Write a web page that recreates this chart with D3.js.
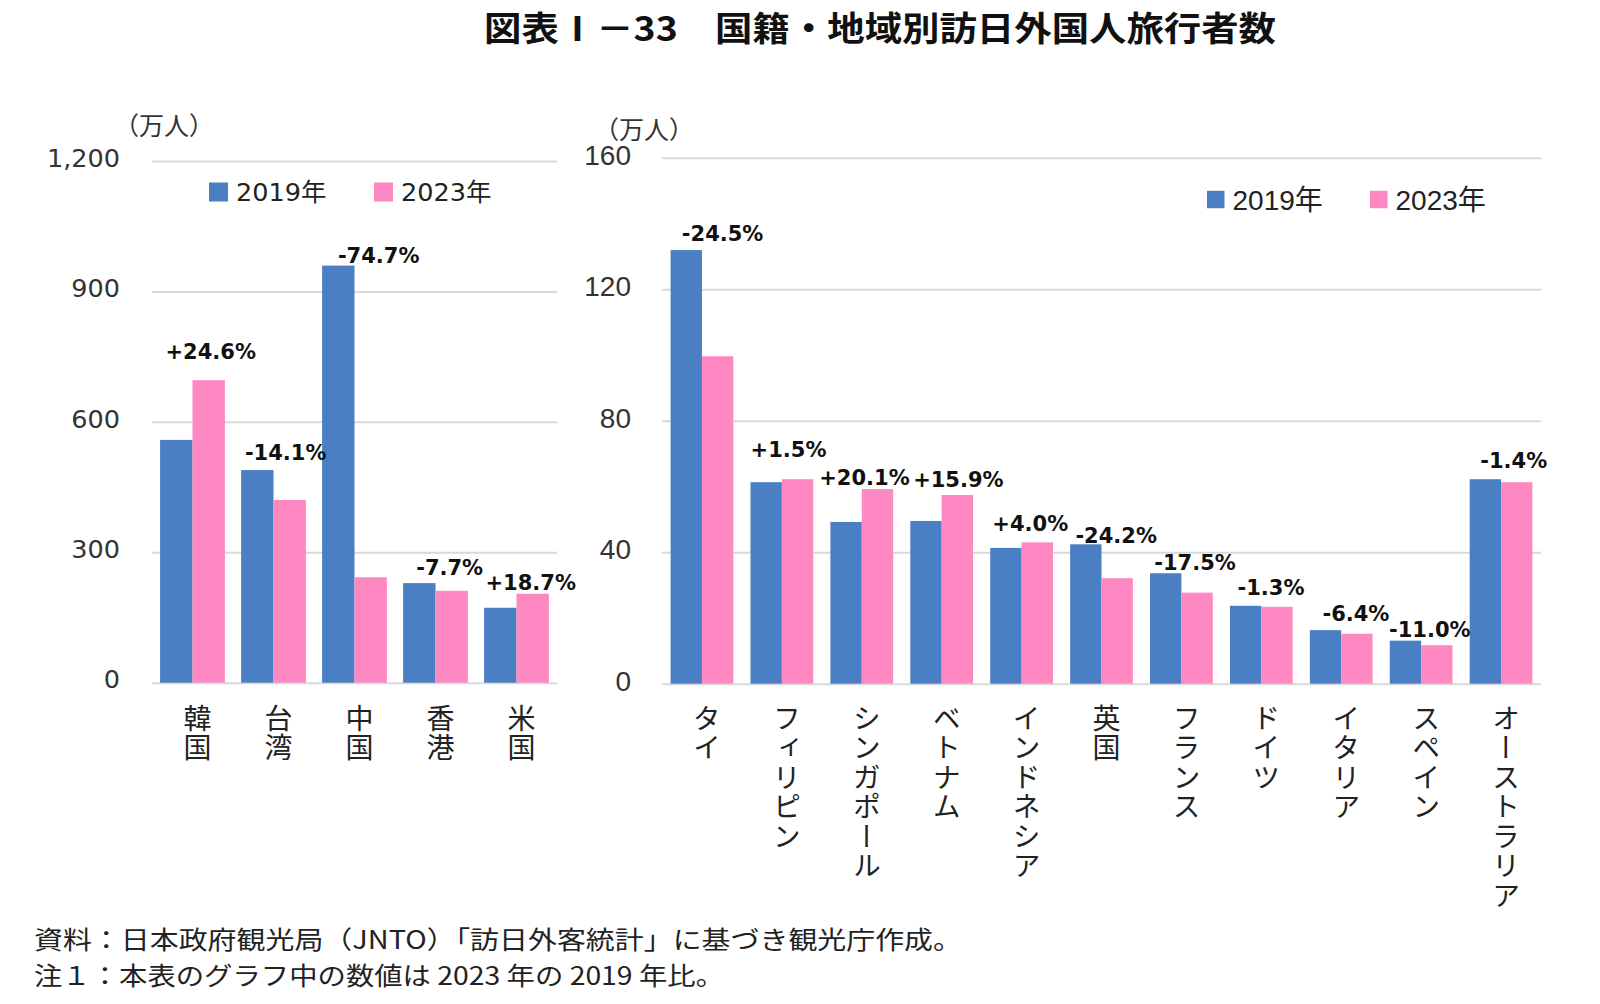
<!DOCTYPE html>
<html><head><meta charset="utf-8">
<script src="https://cdn.jsdelivr.net/npm/d3@7"></script>
<style>
html,body{margin:0;padding:0;background:#fff;}
svg{display:block;}
</style></head>
<body>
<svg id="c" width="1600" height="1004"></svg>
<script>
// ---------- DATA ----------
const leftCategories = ["韓国","台湾","中国","香港","米国"];
const left2019 = [558.5, 489.1, 959.4, 229.1, 172.4];
const left2023 = [695.8, 420.2, 242.5, 211.4, 204.6];
const leftChange = ["+24.6%","-14.1%","-74.7%","-7.7%","+18.7%"];
const leftTicks = [0, 300, 600, 900, 1200];

const rightCategories = ["タイ","フィリピン","シンガポール","ベトナム","インドネシア","英国","フランス","ドイツ","イタリア","スペイン","オーストラリア"];
const right2019 = [131.9, 61.3, 49.2, 49.5, 41.3, 42.4, 33.6, 23.7, 16.3, 13.1, 62.2];
const right2023 = [99.6, 62.2, 59.2, 57.4, 43.0, 32.1, 27.7, 23.4, 15.2, 11.7, 61.3];
const rightChange = ["-24.5%","+1.5%","+20.1%","+15.9%","+4.0%","-24.2%","-17.5%","-1.3%","-6.4%","-11.0%","-1.4%"];
const rightTicks = [0, 40, 80, 120, 160];

const seriesNames = ["2019年","2023年"];
const title = "図表Ⅰ－33　国籍・地域別訪日外国人旅行者数";
const unitLabel = "（万人）";
const notes = ["資料：日本政府観光局（JNTO）「訪日外客統計」に基づき観光庁作成。",
               "注１：本表のグラフ中の数値は 2023 年の 2019 年比。"];

// ---------- LAYOUT TWEAKS (hand-placed label nudges, px) ----------
const leftLabelNudge = [[2,-12],[-4,-1],[8,6],[-2,1],[-2,5]];
const rightLabelNudge = [[5,0],[-9,-13],[-13,5],[1,1],[-7,-2],[-1,8],[-2,6],[-6,-2],[-1,0],[-7,5],[-3,-2]];

// ---------- STYLE ----------
const COLORS = ["#4a7fc4", "#fe88c1"];
const GRID = "#d9d9d9";
const CJK = "'Noto Sans CJK JP'";

const svg = d3.select("#c");

// title
svg.append("text")
  .attr("x", 880).attr("y", 41)
  .attr("text-anchor", "middle")
  .attr("textLength", 792).attr("lengthAdjust", "spacingAndGlyphs")
  .style("font-family", CJK).style("font-weight", 700)
  .style("font-size", "34px").attr("fill", "#111")
  .text(title);

function drawChart(cfg) {
  const g = svg.append("g");
  const x = d3.scaleBand().domain(cfg.categories)
    .range([cfg.x0, cfg.x1]).paddingInner(cfg.pad).paddingOuter(cfg.pad / 2);
  const xs = d3.scaleBand().domain([0, 1]).range([0, x.bandwidth()]);
  const y = d3.scaleLinear().domain([0, cfg.max]).range([cfg.y0, cfg.y1]);

  // unit label
  g.append("text").attr("x", cfg.unitX).attr("y", cfg.unitY)
    .attr("text-anchor", "middle")
    .style("font-family", CJK).style("font-size", "25px").attr("fill", "#333")
    .text(unitLabel);

  // gridlines via axis
  const ax = d3.axisLeft(y).tickValues(cfg.ticks)
    .tickSize(-(cfg.x1 - cfg.x0)).tickFormat(cfg.fmt).tickPadding(0);
  const axG = g.append("g").attr("transform", `translate(${cfg.x0},0)`).call(ax);
  axG.select(".domain").remove();
  axG.selectAll(".tick line").attr("stroke", GRID).attr("stroke-width", 2);
  axG.selectAll(".tick text")
    .attr("x", cfg.labelX - cfg.x0).attr("dy", "0.32em")
    .attr("transform", `translate(0,${cfg.labelShift})`)
    .style("font-family", cfg.tickFont).style("font-size", cfg.tickSize)
    .attr("fill", "#333").attr("text-anchor", "end");

  // bars
  const groups = g.selectAll("g.grp").data(cfg.categories).join("g")
    .attr("class", "grp").attr("transform", d => `translate(${x(d)},0)`);
  [cfg.s19, cfg.s23].forEach((arr, si) => {
    groups.append("rect")
      .attr("x", xs(si)).attr("width", xs.bandwidth())
      .attr("y", (d, i) => y(arr[i]))
      .attr("height", (d, i) => y(0) - y(arr[i]))
      .attr("fill", COLORS[si]);
  });

  // change labels
  g.selectAll("text.chg").data(cfg.categories).join("text")
    .attr("class", "chg")
    .attr("x", (d, i) => x(d) + xs(1) + xs.bandwidth() / 2 + cfg.nudge[i][0])
    .attr("y", (d, i) => y(Math.max(cfg.s19[i], cfg.s23[i])) - cfg.labelGap + cfg.nudge[i][1])
    .attr("text-anchor", "middle")
    .style("font-family", "'DejaVu Sans'").style("font-weight", 700)
    .style("font-size", "21px").attr("fill", "#111")
    .text((d, i) => cfg.change[i]);

  // category labels (vertical)
  g.selectAll("text.cat").data(cfg.categories).join("text")
    .attr("class", "cat")
    .attr("x", d => x(d) + x.bandwidth() / 2 + 5)
    .attr("y", cfg.catY)
    .style("writing-mode", "vertical-rl")
    .style("letter-spacing", "1.5px")
    .style("font-family", CJK).style("font-size", "28px")
    .attr("fill", "#222")
    .text(d => d);

  // legend
  const lg = g.selectAll("g.leg").data(seriesNames).join("g")
    .attr("class", "leg")
    .attr("transform", (d, i) => `translate(${cfg.legX[i]},${cfg.legY})`);
  lg.append("rect").attr("x", 0).attr("y", -cfg.legSq / 2)
    .attr("width", cfg.legSq).attr("height", cfg.legSq)
    .attr("fill", (d, i) => COLORS[i]);
  lg.append("text").attr("x", cfg.legSq + 8).attr("dy", "0.36em")
    .style("font-family", cfg.tickFont).style("font-size", cfg.legFont)
    .attr("fill", "#222").text(d => d);
}

drawChart({
  categories: leftCategories, s19: left2019, s23: left2023, change: leftChange, nudge: leftLabelNudge,
  ticks: leftTicks, max: 1200, fmt: d3.format(","),
  x0: 152, x1: 557, y0: 682.7, y1: 161, pad: 0.2,
  labelX: 120, labelShift: -3, tickFont: "'DejaVu Sans', 'Noto Sans CJK JP'", tickSize: "25.5px",
  labelGap: 9, catY: 704, unitX: 164, unitY: 135,
  legX: [209, 374], legY: 192, legSq: 19, legFont: "25.5px"
});

drawChart({
  categories: rightCategories, s19: right2019, s23: right2023, change: rightChange, nudge: rightLabelNudge,
  ticks: rightTicks, max: 160, fmt: d3.format(","),
  x0: 662, x1: 1541, y0: 683.7, y1: 157.7, pad: 0.215,
  labelX: 631, labelShift: -2.5, tickFont: "'Liberation Sans', 'Noto Sans CJK JP'", tickSize: "28px",
  labelGap: 9, catY: 704, unitX: 644, unitY: 139,
  legX: [1207, 1370], legY: 199.5, legSq: 17.5, legFont: "28px"
});

// notes
notes.forEach((t, i) => {
  svg.append("text").attr("x", 34).attr("y", 949 + i * 36)
    .attr("textLength", i === 0 ? 928 : 690).attr("lengthAdjust", "spacingAndGlyphs")
    .style("font-family", CJK).style("font-size", "25px").attr("fill", "#222")
    .text(t);
});
</script>
</body></html>
